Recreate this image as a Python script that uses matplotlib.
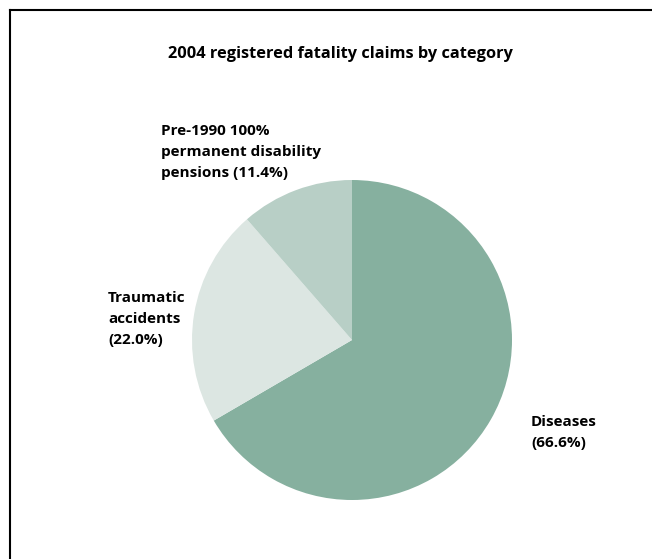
import matplotlib
matplotlib.use("Agg")
import matplotlib.pyplot as plt
from matplotlib.lines import Line2D

# data
categories = ["Diseases", "Traumatic\naccidents", "Pre-1990 100%\npermanent disability\npensions"]
shares = [66.6, 22.0, 11.4]
colors = ["#86b09f", "#dce6e2", "#b8cfc6"]

W, H = 652, 559
fig = plt.figure(figsize=(W / 100, H / 100), dpi=100)
plt.rcParams['font.family'] = ['Open Sans', 'DejaVu Sans']

# frame lines (top and left only visible)
fig.add_artist(Line2D([10 / W, 1], [1 - 9.5 / H, 1 - 9.5 / H], color="black", lw=1.5, transform=fig.transFigure))
fig.add_artist(Line2D([10 / W, 10 / W], [0, 1 - 9.5 / H], color="black", lw=1.5, transform=fig.transFigure))

cx, cy, r = 352, 340, 160
ax = fig.add_axes([(cx - r) / W, 1 - (cy + r) / H, 2 * r / W, 2 * r / H])
ax.pie(shares, colors=colors, startangle=90, counterclock=False, radius=1,
       wedgeprops=dict(linewidth=0))
ax.set_xlim(-1, 1)
ax.set_ylim(-1, 1)
ax.set_aspect("equal")
ax.axis("off")

fig.text(341 / W, 1 - 54 / H, "2004 registered fatality claims by category",
         ha="center", va="center", fontsize=11.8, fontweight="bold")

label_pos = [(531, 415), (108, 291), (161, 124)]
for name, val, (px, py) in zip(categories, shares, label_pos):
    if name.count("\n") == 2:
        txt = f"{name} ({val:.1f}%)"
    else:
        txt = f"{name}\n({val:.1f}%)"
    fig.text(px / W, 1 - py / H, txt, ha="left", va="top",
             fontsize=11, fontweight="bold", linespacing=1.63)

fig.savefig("out.png", dpi=100)
